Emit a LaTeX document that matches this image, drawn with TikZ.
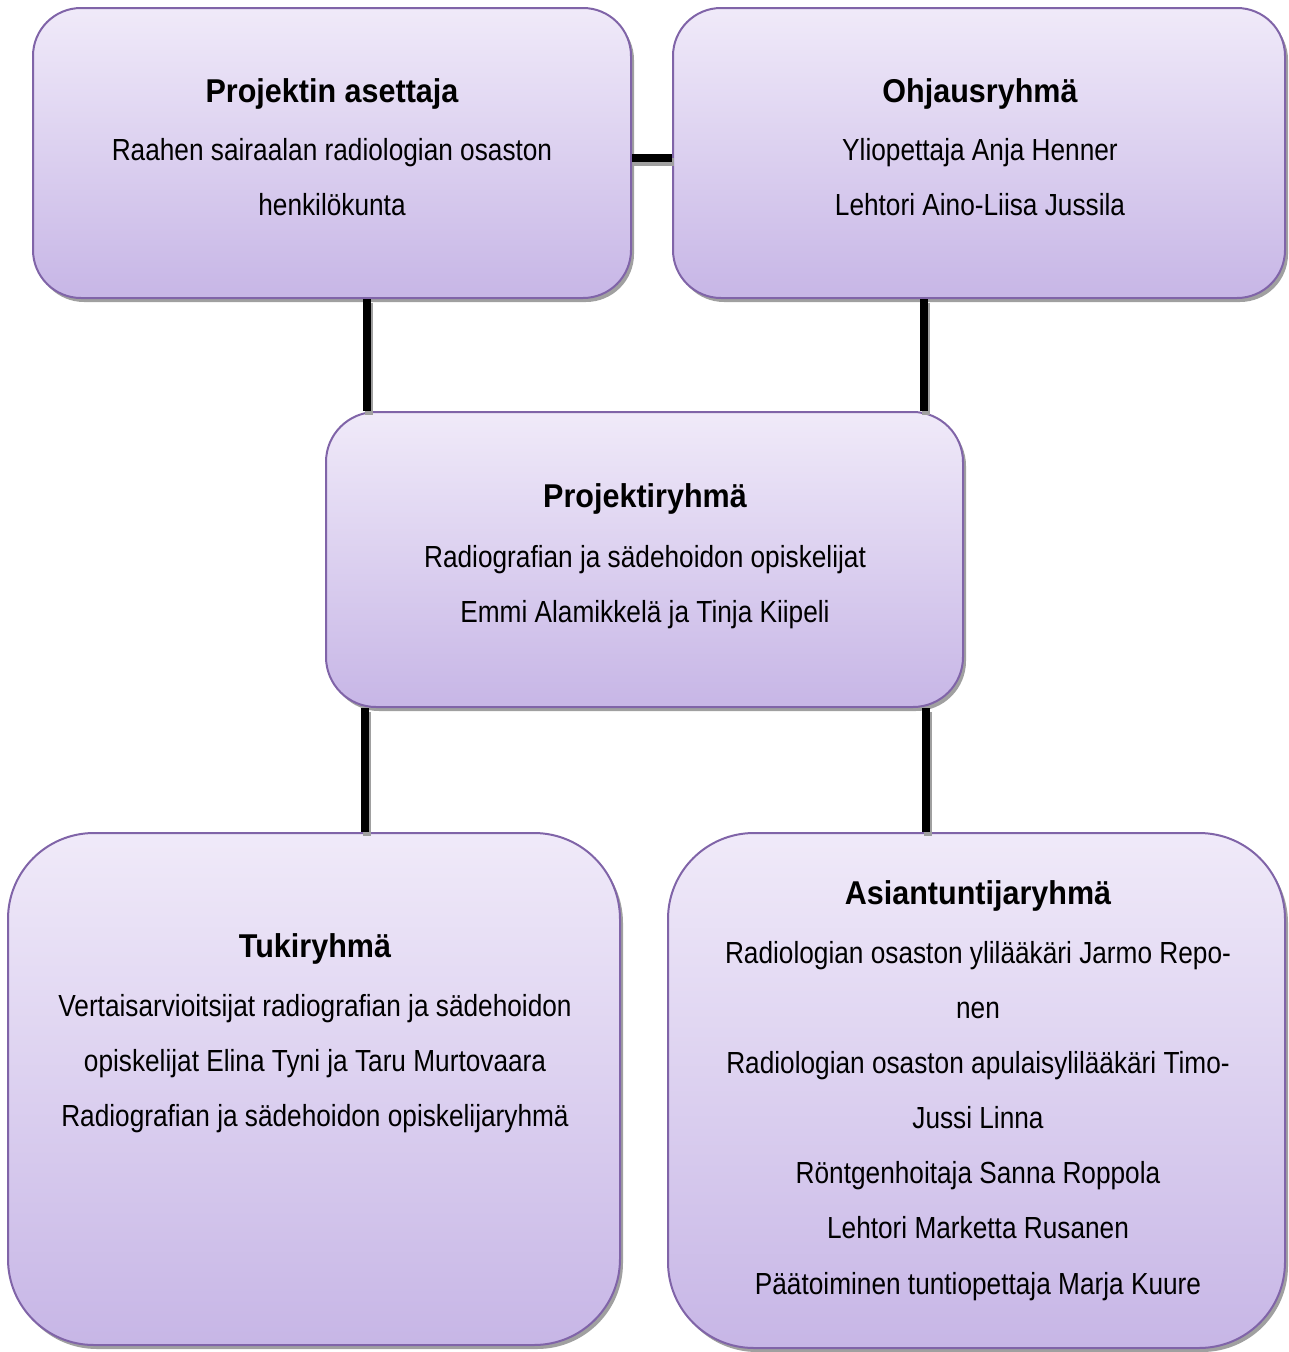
\documentclass[tikz,border=0pt]{standalone}
\usepackage{fontspec}
\setmainfont[FakeStretch=0.86]{Liberation Sans}
\newfontfamily\tfont[FakeStretch=0.925]{Liberation Sans}
\usetikzlibrary{shadows}
\definecolor{boxtop}{RGB}{240,234,249}
\definecolor{boxbot}{RGB}{199,182,230}
\definecolor{boxline}{RGB}{128,100,168}
\definecolor{shadowgray}{RGB}{160,160,160}
\tikzset{
  box/.style={draw=boxline, line width=2pt, shading=axis, top color=boxtop, bottom color=boxbot,
    drop shadow={shadow xshift=3pt, shadow yshift=-4pt, fill=shadowgray, opacity=1}, inner sep=0pt},
  conn/.style={line width=8pt, black,
    preaction={draw=shadowgray, line width=8pt, transform canvas={shift={(2pt,-4pt)}}}},
  ttl/.style={anchor=base, inner sep=0pt, font=\tfont\bfseries\fontsize{33}{40}\selectfont},
  body/.style={anchor=base, inner sep=0pt, font=\fontsize{30.5}{36}\selectfont},
}
\begin{document}
\begin{tikzpicture}[x=1pt,y=-1pt]
\useasboundingbox (0,0) rectangle (1288,1352);
% boxes
\node[box, minimum width=598pt, minimum height=290pt, rounded corners=48pt] (aset) at (332,153) {};
\node[box, minimum width=612pt, minimum height=290pt, rounded corners=48pt] (ohj) at (979,153) {};
\node[box, minimum width=637pt, minimum height=295pt, rounded corners=50pt] (proj) at (644.5,559.5) {};
\node[box, minimum width=612pt, minimum height=512pt, rounded corners=86pt] (tuki) at (314,1089) {};
\node[box, minimum width=617pt, minimum height=515pt, rounded corners=86pt] (asia) at (976.5,1090.5) {};
% connectors
\draw[conn] ([yshift=-5pt]aset.east) -- ([yshift=-5pt]ohj.west);
\draw[conn] ([xshift=35pt]aset.south) -- ([xshift=35pt]aset.south |- proj.north);
\draw[conn] ([xshift=-55pt]ohj.south) -- ([xshift=-55pt]ohj.south |- proj.north);
\draw[conn] ([xshift=-279.5pt]proj.south) -- ([xshift=-279.5pt]proj.south |- tuki.north);
\draw[conn] ([xshift=281.5pt]proj.south) -- ([xshift=281.5pt]proj.south |- asia.north);
% texts box 1
\node[ttl] (t1) at (332,102) {Projektin asettaja};
\node[body] (t1a) at (332,160) {Raahen sairaalan radiologian osaston};
\node[body] (t1b) at (332,215) {henkilökunta};
% box 2
\node[ttl] (t2) at (980,102) {Ohjausryhmä};
\node[body] (t2a) at (980,160) {Yliopettaja Anja Henner};
\node[body] (t2b) at (980,215) {Lehtori Aino-Liisa Jussila};
% box 3
\node[ttl] (t3) at (645,507) {Projektiryhmä};
\node[body] (t3a) at (645,567) {Radiografian ja sädehoidon opiskelijat};
\node[body] (t3b) at (645,622) {Emmi Alamikkelä ja Tinja Kiipeli};
% box 4
\node[ttl] (t4) at (315,957) {Tukiryhmä};
\node[body] (t4a) at (315,1016) {Vertaisarvioitsijat radiografian ja sädehoidon};
\node[body] (t4b) at (315,1071) {opiskelijat Elina Tyni ja Taru Murtovaara};
\node[body] (t4c) at (315,1126) {Radiografian ja sädehoidon opiskelijaryhmä};
% box 5
\node[ttl] (t5) at (978,904) {Asiantuntijaryhmä};
\node[body] (t5a) at (978,963) {Radiologian osaston ylilääkäri Jarmo Repo-};
\node[body] (t5b) at (978,1018) {nen};
\node[body] (t5c) at (978,1073) {Radiologian osaston apulaisylilääkäri Timo-};
\node[body] (t5d) at (978,1128) {Jussi Linna};
\node[body] (t5e) at (978,1183) {Röntgenhoitaja Sanna Roppola};
\node[body] (t5f) at (978,1238) {Lehtori Marketta Rusanen};
\node[body] (t5g) at (978,1294) {Päätoiminen tuntiopettaja Marja Kuure};
\end{tikzpicture}
\end{document}
